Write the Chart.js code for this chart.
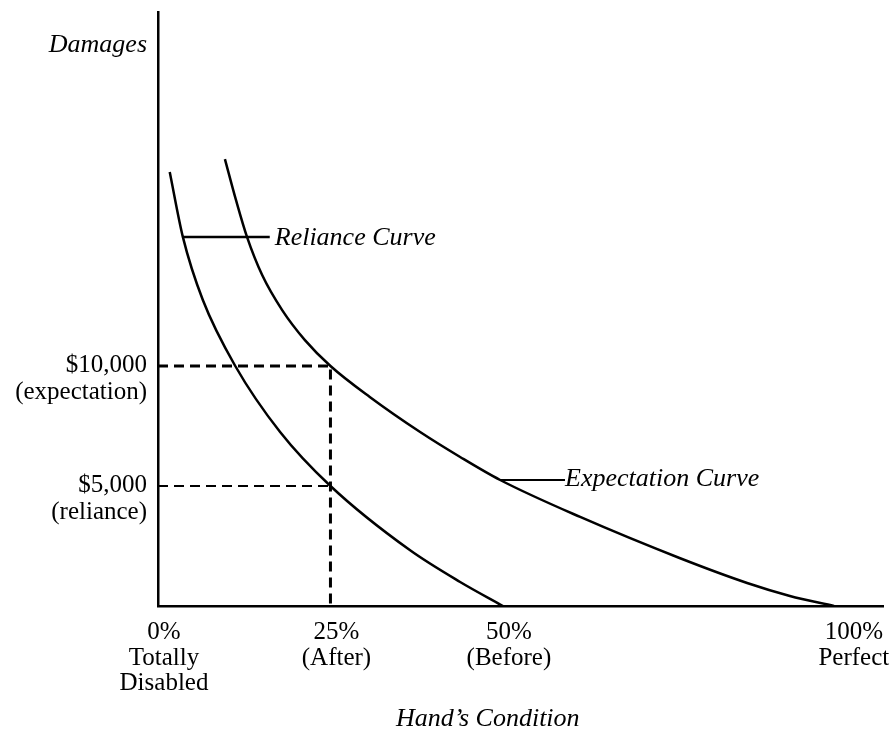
<!DOCTYPE html>
<html>
<head>
<meta charset="utf-8">
<script src="https://cdn.jsdelivr.net/npm/chart.js@4/dist/chart.umd.min.js"></script>
<style>
  body { margin: 0; background: #fff; }
  canvas { display: block; }
</style>
</head>
<body>
<canvas id="handChart" width="890" height="733"></canvas>
<script>
// Hand's condition (%) vs damages ($)
const relianceX = [1.7, 3.6, 6.5, 11.2, 17.7, 25, 36.5, 43.8, 50];
const relianceY = [18080, 15380, 12750, 10000, 7250, 5000, 2330, 1000, 0];

const expectationX = [9.7, 11.3, 12.9, 15.1, 18, 21.3, 25, 30.7, 38, 43.8, 49.6, 61.2, 75.6, 85.4, 91.6, 98];
const expectationY = [18620, 16920, 15380, 13790, 12330, 11080, 10000, 8710, 7250, 6210, 5250, 3710, 2000, 960, 420, 0];

// the "after" point and the two damage levels
const afterPct = 25;
const expectationDamages = 10000;
const relianceDamages = 5000;

// tick marks and their labels
const xTickValues = [0, 25, 50, 100];
const xTickLabels = [['0%', 'Totally', 'Disabled'], ['25%', '(After)'], ['50%', '(Before)'], ['100%', 'Perfect']];
const yTickValues = [5000, 10000];
const yTickLabels = [['$5,000', '(reliance)'], ['$10,000', '(expectation)']];

// leader lines for the curve names: [x start, x end, y]
const relianceLeader = [3.6, 16.2, 15380];
const expectationLeader = [49.6, 59, 5250];

const serif = "'Liberation Serif', 'DejaVu Serif', serif";

const toPoints = (xs, ys) => xs.map((x, i) => ({ x: x, y: ys[i] }));

const solid = (data, width) => ({
    data: data,
    borderColor: '#000',
    borderWidth: width,
    pointRadius: 0,
    fill: false,
    cubicInterpolationMode: 'monotone'
});

const dashed = (data, width) => ({
    data: data,
    borderColor: '#000',
    borderWidth: width,
    borderDash: [10, 6],
    pointRadius: 0,
    fill: false
});

// no extra room for tick labels, the layout is fixed
const noPadding = (axis) => {
    axis.paddingTop = 0;
    axis.paddingBottom = 0;
    axis.paddingLeft = 0;
    axis.paddingRight = 0;
};

// texts placed next to the leader lines
const textPlugin = {
    id: 'curveTexts',
    afterDraw(chart) {
        const { ctx, scales: { x, y }, chartArea } = chart;
        ctx.save();
        ctx.fillStyle = '#000';
        ctx.font = 'italic 26px ' + serif;
        ctx.textBaseline = 'alphabetic';

        ctx.textAlign = 'right';
        ctx.fillText('Damages', chartArea.left - 11, chartArea.top + 40);

        ctx.textAlign = 'left';
        ctx.fillText('Reliance Curve', x.getPixelForValue(relianceLeader[1]) + 5, y.getPixelForValue(relianceLeader[2]) + 8);
        ctx.fillText('Expectation Curve', x.getPixelForValue(expectationLeader[1]), y.getPixelForValue(expectationLeader[2]) + 6);

        ctx.textAlign = 'center';
        ctx.fillText('Hand\u2019s Condition', x.getPixelForValue(47.8), chartArea.bottom + 120);
        ctx.restore();
    }
};

new Chart(document.getElementById('handChart'), {
    type: 'line',
    data: {
        datasets: [
            solid(toPoints(relianceX, relianceY), 2.5),
            solid(toPoints(expectationX, expectationY), 2.5),
            dashed([{ x: 0, y: expectationDamages }, { x: afterPct, y: expectationDamages }, { x: afterPct, y: 0 }], 3),
            dashed([{ x: 0, y: relianceDamages }, { x: afterPct, y: relianceDamages }], 2),
            solid([{ x: relianceLeader[0], y: relianceLeader[2] }, { x: relianceLeader[1], y: relianceLeader[2] }], 2.5),
            solid([{ x: expectationLeader[0], y: expectationLeader[2] }, { x: expectationLeader[1], y: expectationLeader[2] }], 2)
        ]
    },
    options: {
        responsive: false,
        animation: false,
        layout: { padding: { top: 12, right: 7, left: 0, bottom: 0 } },
        plugins: { legend: { display: false }, tooltip: { enabled: false } },
        scales: {
            x: {
                type: 'linear',
                min: 0,
                max: 105.1,
                afterBuildTicks: (axis) => { axis.ticks = xTickValues.map(v => ({ value: v })); },
                afterFit: (axis) => { axis.height = 127; noPadding(axis); },
                grid: { display: false, drawTicks: false },
                border: { display: true, color: '#000', width: 2.5 },
                ticks: {
                    autoSkip: false,
                    maxRotation: 0,
                    padding: 14,
                    labelOffset: 6,
                    color: '#000',
                    font: { family: serif, size: 25, lineHeight: 1.02 },
                    callback: (v) => xTickLabels[xTickValues.indexOf(v)]
                }
            },
            y: {
                type: 'linear',
                min: 0,
                max: 24750,
                afterBuildTicks: (axis) => { axis.ticks = yTickValues.map(v => ({ value: v })); },
                afterFit: (axis) => { axis.width = 158; noPadding(axis); },
                grid: { display: false, drawTicks: false },
                border: { display: true, color: '#000', width: 2.5 },
                ticks: {
                    autoSkip: false,
                    padding: 11,
                    labelOffset: 13,
                    color: '#000',
                    font: { family: serif, size: 25, lineHeight: 1.05 },
                    callback: (v) => yTickLabels[yTickValues.indexOf(v)]
                }
            }
        }
    },
    plugins: [textPlugin]
});
</script>
</body>
</html>
